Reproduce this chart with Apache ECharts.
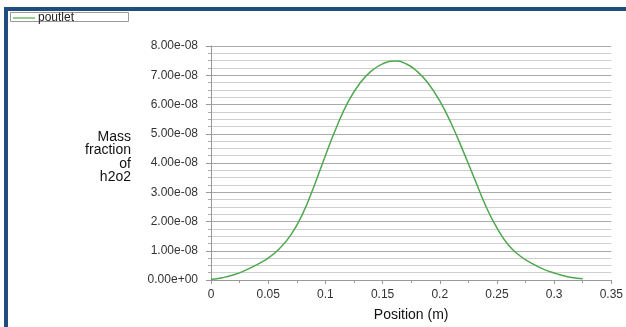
<!DOCTYPE html>
<html>
<head>
<meta charset="utf-8">
<script src="https://cdn.jsdelivr.net/npm/echarts@6/dist/echarts.min.js"></script>
<style>
  body { margin: 0; background: #fff; }
  #wrap { position: relative; width: 626px; height: 327px; overflow: hidden; }
  #frame { position: absolute; left: 4px; top: 7px; right: 0; bottom: 0;
           border-left: 4px solid #214d7d; border-top: 4px solid #214d7d; pointer-events: none; }
  #chart { position: absolute; left: 0; top: 0; width: 626px; height: 327px; }
</style>
</head>
<body>
<div id="wrap">
  <div id="chart"></div>
  <div id="frame"></div>
</div>
<script>
// position (m)
const positions = [0, 0.01, 0.02, 0.03, 0.04, 0.05, 0.06, 0.07, 0.08, 0.09,
  0.10, 0.11, 0.12, 0.13, 0.14, 0.15, 0.16, 0.17, 0.18, 0.19,
  0.20, 0.21, 0.22, 0.23, 0.24, 0.25, 0.26, 0.27, 0.28, 0.29,
  0.30, 0.31, 0.32, 0.325];
// mass fraction of h2o2, in units of 1e-8
const fraction = [0.02, 0.08, 0.18, 0.33, 0.52, 0.75, 1.08, 1.55, 2.25, 3.2,
  4.25, 5.25, 6.1, 6.72, 7.14, 7.39, 7.49, 7.40, 7.14, 6.72,
  6.12, 5.35, 4.45, 3.5, 2.55, 1.78, 1.2, 0.83, 0.58, 0.38,
  0.24, 0.13, 0.06, 0.04];
const seriesName = 'poutlet';
const yTitle = 'Mass\nfraction\nof\nh2o2';

function expLabel(v) {
  if (v === 0) return '0.00e+00';
  let s = v.toExponential(2);
  let [m, e] = s.split('e');
  let sign = e[0];
  let digits = e.slice(1).padStart(2, '0');
  return m + 'e' + sign + digits;
}

const data = positions.map((x, i) => [x, fraction[i] * 1e-8]);

let chart = echarts.init(document.getElementById('chart'));
chart.setOption({
  animation: false,
  textStyle: { fontFamily: 'Liberation Sans, Arial, sans-serif' },
  grid: { left: 211, right: 14, top: 46, bottom: 45 },
  graphic: [{
    type: 'rect',
    left: 10, top: 12,
    z: -10,
    shape: { width: 118, height: 9 },
    style: { fill: '#fff', stroke: '#999', lineWidth: 1 }
  }, {
    // y axis title, drawn as text left of the axis labels
    type: 'text',
    x: 131, y: 130,
    style: {
      text: yTitle,
      align: 'right', verticalAlign: 'top',
      fontSize: 14, lineHeight: 13.5,
      fontFamily: 'Liberation Sans, Arial, sans-serif',
      fill: '#111'
    }
  }],
  legend: {
    left: 13, top: 12,
    z: 10,
    padding: 0,
    itemWidth: 22, itemHeight: 1.5,
    itemGap: 4,
    icon: 'rect',
    textStyle: { fontSize: 12, color: '#222', padding: [7, 0, 0, -2] },
    data: [{ name: seriesName, itemStyle: { color: '#6cbf6c' } }]
  },
  xAxis: {
    type: 'value',
    min: 0, max: 0.35, interval: 0.05,
    name: 'Position (m)',
    nameLocation: 'middle',
    nameGap: 28,
    nameMoveOverlap: false,
    nameTextStyle: { fontSize: 14, color: '#111' },
    axisLine: { lineStyle: { color: '#999' } },
    axisTick: { show: true, length: 4, lineStyle: { color: '#999' } },
    minorTick: { show: true, splitNumber: 2, length: 3, lineStyle: { color: '#999' } },
    axisLabel: { fontSize: 12, color: '#333', margin: 9 },
    splitLine: { show: false }
  },
  yAxis: {
    type: 'value',
    min: 0, max: 8e-8, interval: 1e-8,
    axisLine: { show: true, lineStyle: { color: '#999' } },
    axisTick: { show: true, length: 5, lineStyle: { color: '#999' } },
    minorTick: { show: true, splitNumber: 4, length: 3, lineStyle: { color: '#aaa' } },
    axisLabel: { fontSize: 12, color: '#333', margin: 13, formatter: expLabel },
    splitLine: { show: true, lineStyle: { color: '#aaa', width: 1 } },
    minorSplitLine: { show: true, lineStyle: { color: '#cfcfcf', width: 1 } }
  },
  series: [{
    name: seriesName,
    type: 'line',
    data: data,
    smooth: true,
    showSymbol: false,
    lineStyle: { color: '#4fa84f', width: 1.5 },
    itemStyle: { color: '#4fa84f' }
  }]
});
</script>
</body>
</html>
